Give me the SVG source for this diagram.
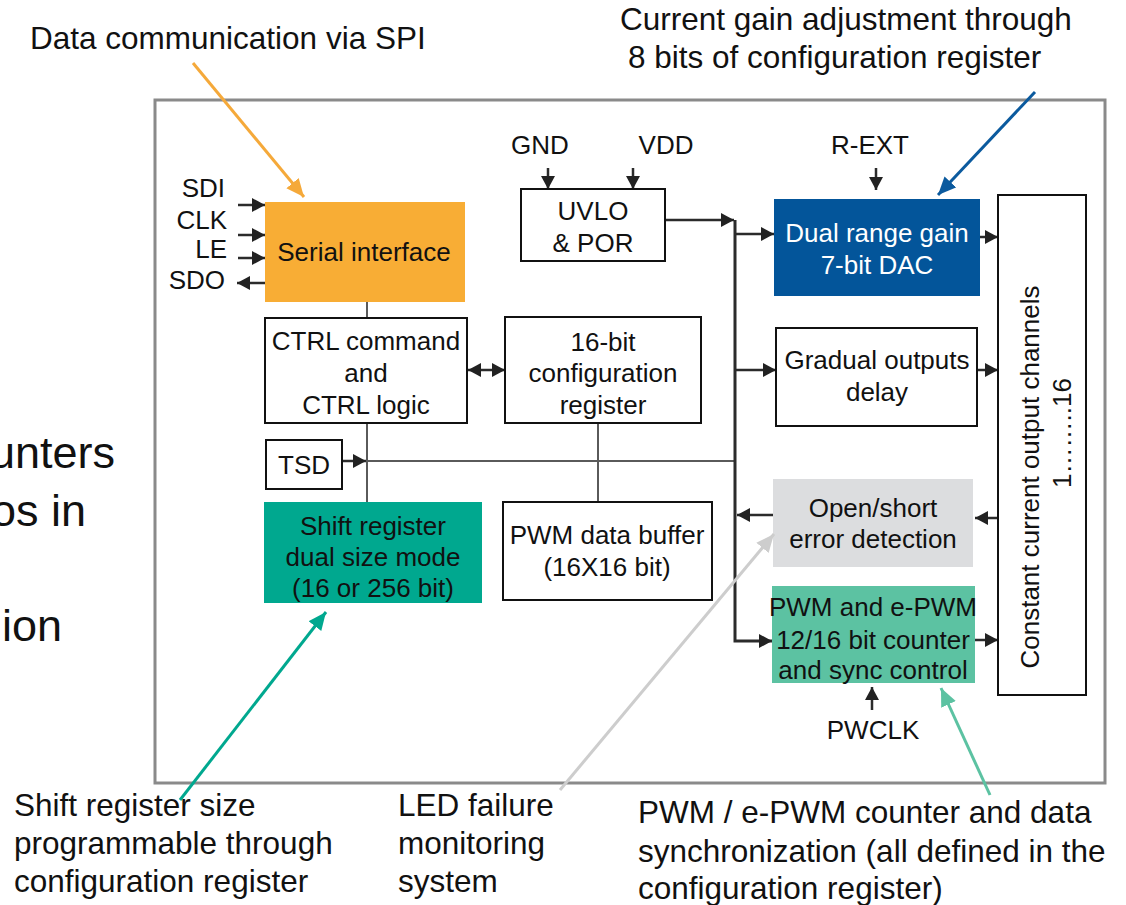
<svg xmlns="http://www.w3.org/2000/svg" width="1126" height="905" viewBox="0 0 1126 905">
<style>
text{font-family:"Liberation Sans",Arial,sans-serif;fill:#111}
.t{font-size:26px;text-anchor:middle}
.pin{font-size:26px;text-anchor:end}
.pc{font-size:26px;text-anchor:middle}
.ann{font-size:31.5px}
.big{font-size:45px;text-anchor:end}
.box{fill:#fff;stroke:#111;stroke-width:2}
.ln{stroke:#2b2b2b;stroke-width:2.5;fill:none}
.bus{stroke:#2b2b2b;stroke-width:3;fill:none}
.gl{stroke:#5a5a5a;stroke-width:2;fill:none}
.an{stroke-width:3;fill:none}
</style>
<defs>
<marker id="ah" markerUnits="userSpaceOnUse" markerWidth="16" markerHeight="16" refX="13" refY="7" orient="auto-start-reverse"><path d="M0,0 L13,7 L0,14 z" fill="#222"/></marker>
<marker id="aOr" markerUnits="userSpaceOnUse" markerWidth="20" markerHeight="20" refX="18" refY="8" orient="auto"><path d="M0,0 L18,8 L0,16 z" fill="#F5A93A"/></marker>
<marker id="aBl" markerUnits="userSpaceOnUse" markerWidth="20" markerHeight="20" refX="18" refY="8" orient="auto"><path d="M0,0 L18,8 L0,16 z" fill="#0B5A9E"/></marker>
<marker id="aTe" markerUnits="userSpaceOnUse" markerWidth="20" markerHeight="20" refX="18" refY="8" orient="auto"><path d="M0,0 L18,8 L0,16 z" fill="#00A88F"/></marker>
<marker id="aGr" markerUnits="userSpaceOnUse" markerWidth="20" markerHeight="20" refX="18" refY="8" orient="auto"><path d="M0,0 L18,8 L0,16 z" fill="#CDCDCD"/></marker>
<marker id="aMi" markerUnits="userSpaceOnUse" markerWidth="20" markerHeight="20" refX="18" refY="8" orient="auto"><path d="M0,0 L18,8 L0,16 z" fill="#5CC2A2"/></marker>
</defs>
<rect width="1126" height="905" fill="#fff"/>
<text class="big" x="115" y="468">unters</text>
<text class="big" x="86" y="526">os in</text>
<text class="big" x="62" y="641">ion</text>
<rect id="frame" x="155" y="100" width="950" height="683" fill="#fff" stroke="#8a8a8a" stroke-width="3"/>

<g id="connectors">
<line class="gl" x1="367" y1="302" x2="367" y2="502"/>
<line class="gl" x1="598" y1="423" x2="598" y2="502"/>
<line class="gl" x1="366" y1="461" x2="735" y2="461"/>
<line class="ln" x1="342" y1="461" x2="366" y2="461" marker-end="url(#ah)"/>
<line class="ln" x1="238" y1="205" x2="265" y2="205" marker-end="url(#ah)"/>
<line class="ln" x1="238" y1="235" x2="265" y2="235" marker-end="url(#ah)"/>
<line class="ln" x1="238" y1="258" x2="265" y2="258" marker-end="url(#ah)"/>
<line class="ln" x1="265" y1="283" x2="237" y2="283" marker-end="url(#ah)"/>
<line class="ln" x1="468" y1="370" x2="505" y2="370" marker-start="url(#ah)" marker-end="url(#ah)"/>
<line class="ln" x1="548" y1="168" x2="548" y2="189" marker-end="url(#ah)"/>
<line class="ln" x1="633" y1="168" x2="633" y2="189" marker-end="url(#ah)"/>
<line class="ln" x1="876" y1="168" x2="876" y2="190" marker-end="url(#ah)"/>
<line class="ln" x1="665" y1="220" x2="734" y2="220" marker-end="url(#ah)"/>
<path class="bus" d="M735,220 L735,641 L772,641" marker-end="url(#ah)"/>
<line class="ln" x1="735" y1="234" x2="774" y2="234" marker-end="url(#ah)"/>
<line class="ln" x1="735" y1="370" x2="776" y2="370" marker-end="url(#ah)"/>
<line class="ln" x1="773" y1="515" x2="737" y2="515" marker-end="url(#ah)"/>
<line class="ln" x1="980" y1="237" x2="998" y2="237" marker-end="url(#ah)"/>
<line class="ln" x1="977" y1="370" x2="998" y2="370" marker-end="url(#ah)"/>
<line class="ln" x1="998" y1="518" x2="975" y2="518" marker-end="url(#ah)"/>
<line class="ln" x1="975" y1="640" x2="998" y2="640" marker-end="url(#ah)"/>
<line class="ln" x1="872" y1="710" x2="872" y2="687" marker-end="url(#ah)"/>
</g>

<g id="pins">
<text class="pin" x="225" y="197">SDI</text>
<text class="pin" x="227" y="229">CLK</text>
<text class="pin" x="227" y="258">LE</text>
<text class="pin" x="225" y="289">SDO</text>
<text class="pc" x="540" y="154">GND</text>
<text class="pc" x="666" y="154">VDD</text>
<text class="pc" x="870" y="154">R-EXT</text>
<text class="pc" x="873" y="739">PWCLK</text>
</g>

<g id="serial">
<rect x="265" y="202" width="200" height="100" fill="#F8AD35"/>
<text class="t" x="364" y="261">Serial interface</text>
</g>
<g id="ctrl">
<rect class="box" x="265" y="318" width="202" height="105"/>
<text class="t" x="366" y="350">CTRL command</text>
<text class="t" x="366" y="382">and</text>
<text class="t" x="366" y="414">CTRL logic</text>
</g>
<g id="config">
<rect class="box" x="505" y="317" width="196" height="106"/>
<text class="t" x="603" y="351">16-bit</text>
<text class="t" x="603" y="382">configuration</text>
<text class="t" x="603" y="414">register</text>
</g>
<g id="tsd">
<rect class="box" x="266" y="440" width="76" height="49"/>
<text class="t" x="304" y="474">TSD</text>
</g>
<g id="shift">
<rect x="264" y="502" width="218" height="101" fill="#00A88F"/>
<text class="t" x="373" y="535">Shift register</text>
<text class="t" x="373" y="566">dual size mode</text>
<text class="t" x="373" y="597">(16 or 256 bit)</text>
</g>
<g id="buffer">
<rect class="box" x="503" y="502" width="209" height="98"/>
<text class="t" x="607" y="544">PWM data buffer</text>
<text class="t" x="607" y="576">(16X16 bit)</text>
</g>
<g id="uvlo">
<rect class="box" x="521" y="189" width="144" height="72"/>
<text class="t" x="593" y="220">UVLO</text>
<text class="t" x="593" y="252">&amp; POR</text>
</g>
<g id="dac">
<rect x="774" y="199" width="206" height="97" fill="#03559A"/>
<text class="t" x="877" y="242" style="fill:#fff">Dual range gain</text>
<text class="t" x="877" y="274" style="fill:#fff">7-bit DAC</text>
</g>
<g id="delay">
<rect class="box" x="776" y="328" width="201" height="98"/>
<text class="t" x="877" y="369">Gradual outputs</text>
<text class="t" x="877" y="401">delay</text>
</g>
<g id="outputs">
<rect class="box" x="998" y="195" width="88" height="500"/>
<text class="t" transform="translate(1030,477) rotate(-90)" x="0" y="9">Constant current output channels</text>
<text class="t" transform="translate(1062,433) rotate(-90)" x="0" y="9">1……..16</text>
</g>
<g id="openshort">
<rect x="773" y="479" width="200" height="88" fill="#DCDDDF"/>
<text class="t" x="873" y="517">Open/short</text>
<text class="t" x="873" y="548">error detection</text>
</g>
<g id="pwm">
<rect x="772" y="586" width="203" height="97" fill="#5CC2A2"/>
<text class="t" x="873" y="616">PWM and e-PWM</text>
<text class="t" x="873" y="649">12/16 bit counter</text>
<text class="t" x="873" y="679">and sync control</text>
</g>

<g id="annotations">
<text class="ann" x="30" y="49">Data communication via SPI</text>
<text class="ann" x="620" y="30">Current gain adjustment through</text>
<text class="ann" x="628" y="68">8 bits of configuration register</text>
<text class="ann" x="14" y="816">Shift register size</text>
<text class="ann" x="14" y="854">programmable through</text>
<text class="ann" x="14" y="892">configuration register</text>
<text class="ann" x="398" y="816">LED failure</text>
<text class="ann" x="398" y="854">monitoring</text>
<text class="ann" x="398" y="892">system</text>
<text class="ann" x="638" y="823">PWM / e-PWM counter and data</text>
<text class="ann" x="638" y="862">synchronization (all defined in the</text>
<text class="ann" x="638" y="899">configuration register)</text>
<line class="an" stroke="#F5A93A" x1="193" y1="63" x2="304" y2="197" marker-end="url(#aOr)"/>
<line class="an" stroke="#0B5A9E" x1="1035" y1="92" x2="938" y2="195" marker-end="url(#aBl)"/>
<line class="an" stroke="#00A88F" x1="180" y1="800" x2="326" y2="612" marker-end="url(#aTe)"/>
<line class="an" stroke="#CDCDCD" x1="560" y1="790" x2="774" y2="534" marker-end="url(#aGr)"/>
<line class="an" stroke="#5CC2A2" x1="990" y1="795" x2="941" y2="688" marker-end="url(#aMi)"/>
</g>
</svg>
